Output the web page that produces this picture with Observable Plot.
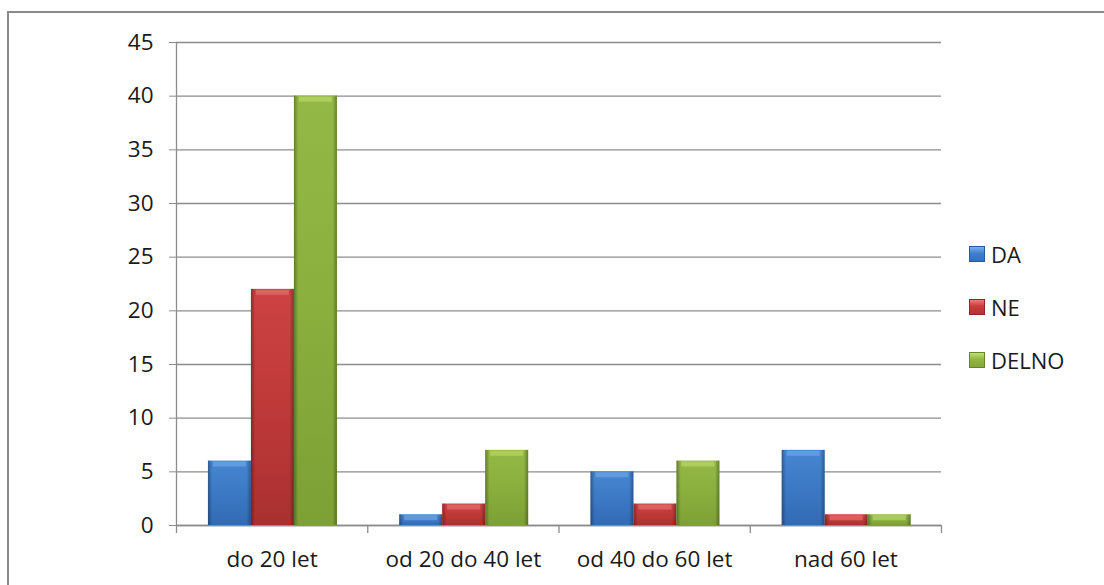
<!DOCTYPE html>
<html>
<head>
<meta charset="utf-8">
<script src="https://cdn.jsdelivr.net/npm/d3@7"></script>
<script src="https://cdn.jsdelivr.net/npm/@observablehq/plot@0.6"></script>
<style>
  html, body { margin: 0; padding: 0; background: #fff; width: 1104px; height: 585px; overflow: hidden; }
  #wrap { position: relative; width: 1104px; height: 585px; }
  #frame { position: absolute; left: 7px; top: 11px; width: 1130px; height: 620px; border: 2px solid #8a8a8a; box-sizing: border-box; }
  #chart { position: absolute; left: 0; top: 0; }
  #legend { position: absolute; left: 969px; top: 227px; font-family: "Open Sans", sans-serif; font-size: 22px; color: #1a1a1a; }
  .row { height: 53px; display: flex; align-items: center; }
  .sw { width: 16px; height: 16px; margin-right: 6px; box-sizing: border-box; }
</style>
</head>
<body>
<div id="wrap">
  <div id="frame"></div>
  <div id="chart"></div>
  <div id="legend"></div>
</div>
<script>
// ---- data ----
const categories = ["do 20 let", "od 20 do 40 let", "od 40 do 60 let", "nad 60 let"];
const seriesNames = ["DA", "NE", "DELNO"];
const valuesDA = [6, 1, 5, 7];
const valuesNE = [22, 2, 2, 1];
const valuesDELNO = [40, 7, 6, 1];
const yTicks = [0, 5, 10, 15, 20, 25, 30, 35, 40, 45];

// ---- styles ----
const palette = [
  {top: "#4a8ddc", main: "#3f7fcf", bottom: "#3570bd", edge: "#2a5a99", hi: "#79afef"},
  {top: "#d84646", main: "#c93c3c", bottom: "#b33333", edge: "#8c2828", hi: "#f07a7a"},
  {top: "#9cc24a", main: "#91b840", bottom: "#84a838", edge: "#66842a", hi: "#c2e070"}
];

const seriesValues = [valuesDA, valuesNE, valuesDELNO];
const rowsBySeries = seriesNames.map((s, i) =>
  categories.map((c, j) => ({category: c, series: s, value: seriesValues[i][j]}))
);

const W = 1104, H = 585, mL = 176, mR = 163, mT = 42, mB = 60;
const step = (W - mL - mR) / categories.length;
const groupOffset = step * 0.167;
const barW = step * 0.2248;
const gray = "#8c8c8c";

const defsMark = () => {
  const defs = d3.create("svg:defs");
  palette.forEach((p, i) => {
    const g = defs.append("linearGradient").attr("id", "fill" + i)
      .attr("x1", 0).attr("y1", 0).attr("x2", 0).attr("y2", 1);
    g.append("stop").attr("offset", "0%").attr("stop-color", p.top);
    g.append("stop").attr("offset", "50%").attr("stop-color", p.main);
    g.append("stop").attr("offset", "100%").attr("stop-color", p.bottom);
  });
  const e = defs.append("linearGradient").attr("id", "edge")
    .attr("x1", 0).attr("y1", 0).attr("x2", 1).attr("y2", 0);
  e.append("stop").attr("offset", "0%").attr("stop-color", "#000").attr("stop-opacity", 0.35);
  e.append("stop").attr("offset", "10%").attr("stop-color", "#000").attr("stop-opacity", 0.05);
  e.append("stop").attr("offset", "90%").attr("stop-color", "#000").attr("stop-opacity", 0.05);
  e.append("stop").attr("offset", "100%").attr("stop-color", "#000").attr("stop-opacity", 0.35);
  return defs.node();
};

const barMarks = rowsBySeries.flatMap((rows, i) => {
  const insetLeft = groupOffset + barW * i;
  const insetRight = step - groupOffset - barW * (i + 1);
  return [
    Plot.barY(rows, {x: "category", y: "value", fill: `url(#fill${i})`, insetLeft, insetRight}),
    Plot.barY(rows, {x: "category", y: "value", fill: "url(#edge)", insetLeft, insetRight}),
    Plot.tickY(rows, {x: "category", y: "value", stroke: palette[i].hi, strokeOpacity: 0.55, strokeWidth: 5,
      dy: 3, insetLeft: insetLeft + 5, insetRight: insetRight + 5})
  ];
});

const plot = Plot.plot({
  width: W, height: H,
  marginLeft: mL, marginRight: mR, marginTop: mT, marginBottom: mB,
  style: {fontFamily: "'Open Sans', sans-serif", fontSize: "22.5px", color: "#1a1a1a", background: "transparent"},
  x: {type: "band", domain: categories, padding: 0, round: false},
  y: {domain: [0, 45]},
  marks: [
    defsMark,
    Plot.gridY(yTicks, {stroke: gray, strokeOpacity: 1, strokeWidth: 1.3}),
    Plot.axisY({ticks: yTicks, tickSize: 7, tickPadding: 16, stroke: gray, strokeOpacity: 1, label: null}),
    Plot.ruleX([categories[0]], {dx: -step / 2, stroke: gray, strokeWidth: 1.3}),
    Plot.ruleY([0], {stroke: gray, strokeWidth: 1.3}),
    Plot.ruleX(categories, {dx: -step / 2, y1: 0, y2: 0, insetBottom: -8, stroke: gray, strokeWidth: 1.3}),
    Plot.ruleX([categories[categories.length - 1]], {dx: step / 2, y1: 0, y2: 0, insetBottom: -8, stroke: gray, strokeWidth: 1.3}),
    Plot.axisX({tickSize: 0, tickPadding: 26, label: null}),
    ...barMarks
  ]
});
document.getElementById("chart").appendChild(plot);

// ---- legend ----
const legend = d3.select("#legend");
seriesNames.forEach((s, i) => {
  const p = palette[i];
  const row = legend.append("div").attr("class", "row");
  row.append("div").attr("class", "sw")
    .style("background", `linear-gradient(to bottom, ${p.hi} 0%, ${p.main} 45%, ${p.bottom} 100%)`)
    .style("border", `1px solid ${p.edge}`);
  row.append("span").text(s);
});
</script>
</body>
</html>
